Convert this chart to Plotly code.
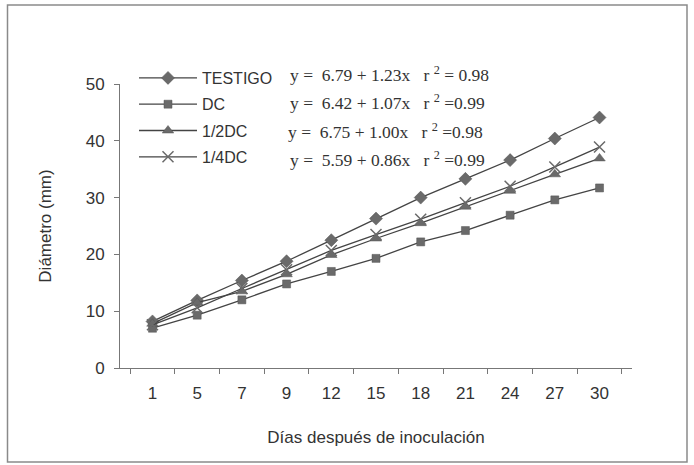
import plotly.graph_objects as go

days = ["1", "5", "7", "9", "12", "15", "18", "21", "24", "27", "30"]
testigo = [8.2, 11.9, 15.4, 18.8, 22.5, 26.3, 30.0, 33.3, 36.6, 40.4, 44.1]
dc = [7.0, 9.3, 12.0, 14.8, 17.0, 19.3, 22.2, 24.2, 26.9, 29.6, 31.7]
half_dc = [7.8, 11.5, 13.5, 16.5, 19.9, 22.8, 25.5, 28.4, 31.2, 34.1, 36.9]
quarter_dc = [7.6, 10.6, 14.0, 17.3, 20.7, 23.5, 26.2, 29.1, 32.0, 35.4, 38.9]
series_names = ["TESTIGO", "DC", "1/2DC", "1/4DC"]
equations = [
    "y =  6.79 + 1.23x   r <sup>2</sup> = 0.98",
    "y =  6.42 + 1.07x   r <sup>2</sup> =0.99",
    "y =  6.75 + 1.00x   r <sup>2</sup> =0.98",
    "y =  5.59 + 0.86x   r <sup>2</sup> =0.99",
]

W, H = 694, 465
L, R, T, B = 120, 62, 84, 97
pw, ph = W - L - R, H - T - B

def px(x):
    return (x - L) / pw

def py(y):
    return (H - B - y) / ph

line_col = "#444444"
mark_col = "#6a6a6a"
symbols = ["diamond", "square", "triangle-up", "x-thin-open"]
sizes = [10, 8, 10, 11]
data = [testigo, dc, half_dc, quarter_dc]

fig = go.Figure()
for i, (name, vals) in enumerate(zip(series_names, data)):
    fig.add_trace(go.Scatter(
        x=days, y=vals, name=name, mode="lines+markers",
        legendgroup=name,
        line=dict(color=line_col, width=1.3),
        marker=dict(symbol=symbols[i], size=sizes[i], color=mark_col,
                    line=dict(color="#555555", width=1.5 if i == 3 else 0.5)),
    ))

eq_x = [288, 288, 286, 288]
eq_y = [74, 102, 131, 159]
for i, eq in enumerate(equations):
    fig.add_annotation(
        x=px(eq_x[i]), y=py(eq_y[i]), xref="paper", yref="paper",
        text=eq, showarrow=False, xanchor="left", yanchor="middle",
        font=dict(family="Liberation Serif", size=17.5, color="#333333"),
    )

fig.add_shape(type="rect", xref="paper", yref="paper",
              x0=px(7.5), x1=px(687), y0=py(462), y1=py(5),
              line=dict(color="#8a8a8a", width=1.5), layer="below")

fig.update_layout(
    width=W, height=H,
    margin=dict(l=L, r=R, t=T, b=B),
    paper_bgcolor="white", plot_bgcolor="white",
    font=dict(family="Liberation Sans", size=16, color="#333333"),
    showlegend=True,
    legend=dict(x=px(134), y=py(61), xanchor="left", yanchor="top",
                bgcolor="rgba(0,0,0,0)", tracegroupgap=2.5, itemwidth=58,
                font=dict(family="Liberation Sans", size=16, color="#333333")),
    xaxis=dict(
        type="category", showgrid=False, zeroline=False,
        showline=True, linecolor="#777777", linewidth=1,
        ticks="outside", tickson="boundaries", ticklen=5, tickcolor="#777777",
        tickfont=dict(size=17), ticklabelstandoff=10,
        title=dict(text="Días después de inoculación", font=dict(size=17), standoff=28),
    ),
    yaxis=dict(
        range=[0, 50], dtick=10, showgrid=False, zeroline=False,
        showline=True, linecolor="#777777", linewidth=1,
        ticks="outside", ticklen=5, tickcolor="#777777",
        tickfont=dict(size=17), ticklabelstandoff=6,
        title=dict(text="Diámetro (mm)", font=dict(size=17), standoff=29),
    ),
)

fig.write_html("out.html")
